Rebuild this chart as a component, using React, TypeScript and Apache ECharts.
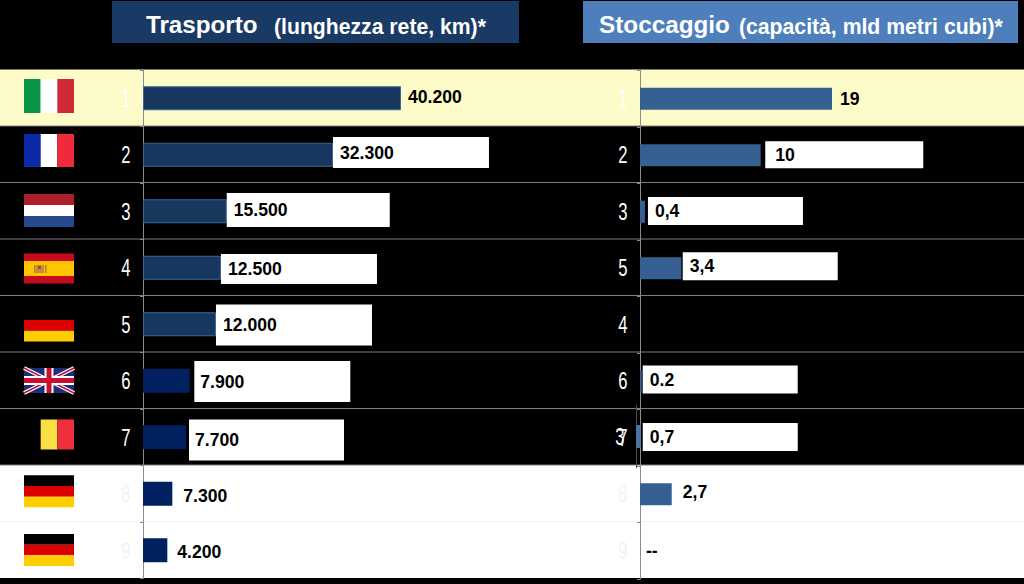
import React, { useEffect, useRef } from "react";
import * as echarts from "echarts";

const FONT = "'Liberation Sans', Arial, sans-serif";

// Ranks shown beside each row
const transportRanks = ["1", "2", "3", "4", "5", "6", "7", "8", "9"];
const storageRanks = ["1", "2", "3", "5", "4", "6", "7", "8", "9"];

// Printed values
const transportLabels = ["40.200", "32.300", "15.500", "12.500", "12.000", "7.900", "7.700", "7.300", "4.200"];
const storageLabels = ["19", "10", "0,4", "3,4", "", "0.2", "", "2,7", "--"];

// The reference's bars are not proportional to their printed values, so the
// bar lengths are read off the picture, on an axis where the top bar equals its label.
const transportBars = [40200, 29600, 13050, 12150, 11370, 7280, 6700, 4570, 3790];
const storageBars: (number | null)[] = [19, 11.94, 0.49, 4.09, null, 0.17, null, 3.14, 0];

// Netherlands' misplaced storage mark, which sits in the row of rank 7
const strayRank = ["3"];
const strayBar = [0.47];
const strayLabel = ["0,7"];

// Label placement: gap after the bar, left padding, vertical shift, box size (0 = no box)
const transportBoxes = [
  { gap: 7, pad: 0, dy: -1, w: 0, h: 0 },
  { gap: 0, pad: 7, dy: -2.25, w: 149, h: 31 },
  { gap: 0, pad: 7, dy: -1.25, w: 156, h: 34 },
  { gap: 0, pad: 7, dy: 1.25, w: 149, h: 30 },
  { gap: 0, pad: 7, dy: 0.75, w: 149, h: 41 },
  { gap: 4.6, pad: 6, dy: 0.75, w: 150, h: 41 },
  { gap: 3, pad: 6, dy: 2.75, w: 149, h: 41 },
  { gap: 11, pad: 0, dy: 2, w: 0, h: 0 },
  { gap: 10, pad: 0, dy: 2, w: 0, h: 0 },
];
const storageBoxes = [
  { gap: 8, pad: 0, dy: 0.5, w: 0, h: 0 },
  { gap: 4.6, pad: 10, dy: -0.5, w: 148, h: 27 },
  { gap: 3, pad: 7, dy: -0.75, w: 148, h: 28 },
  { gap: 1.4, pad: 7, dy: -2, w: 148, h: 28 },
  { gap: 0, pad: 0, dy: 0, w: 0, h: 0 },
  { gap: 1, pad: 7, dy: -1.75, w: 148, h: 28 },
  { gap: 0, pad: 0, dy: 0, w: 0, h: 0 },
  { gap: 11, pad: 0, dy: -2, w: 0, h: 0 },
  { gap: 6, pad: 0, dy: 0, w: 0, h: 0 },
];
const strayBox = { gap: 2, pad: 7, dy: 0.5, w: 148, h: 28 };

const ROW_TOP = 69.5;
const ROW_H = 56.5;
const FLAG_L = 24;
const FLAG_W = 50;

const rect = (x: number, y: number, width: number, height: number, fill: string, z = 1) => ({
  type: "rect",
  z,
  shape: { x, y, width, height },
  style: { fill },
});
const line = (x1: number, y1: number, x2: number, y2: number, stroke: string, lineWidth = 1, z = 1) => ({
  type: "line",
  z,
  shape: { x1, y1, x2, y2 },
  style: { stroke, lineWidth },
});
const text = (t: string, x: number, y: number, fontSize: number) => ({
  type: "text",
  z: 3,
  x,
  y,
  style: {
    text: t,
    fill: "#ffffff",
    fontSize,
    fontWeight: "bold",
    fontFamily: FONT,
    textVerticalAlign: "middle",
  },
});
// The reference's rank digits are in a condensed face; none is installed, so real text is squeezed
const rank = (t: string, x: number, y: number, fill: string) => ({
  type: "text",
  z: 3,
  x,
  y,
  scaleX: 0.68,
  style: {
    text: t,
    fill,
    fontSize: 24.5,
    fontFamily: FONT,
    textAlign: "center",
    textVerticalAlign: "middle",
  },
});
const rankColumn = (ranks: string[], x: number) =>
  ranks.map((t, i) => rank(t, x, ROW_TOP + (i + 0.5) * ROW_H, i >= 7 ? "#f3f3f3" : "#ffffff"));

const vStripes = (y: number, h: number, colors: (string | null)[]) =>
  colors
    .map((c, i) => (c ? rect(FLAG_L + (i * FLAG_W) / 3, y, FLAG_W / 3, h, c) : null))
    .filter(Boolean);
const hStripes = (y: number, h: number, colors: (string | null)[]) =>
  colors
    .map((c, i) => (c ? rect(FLAG_L, y + (i * h) / colors.length, FLAG_W, h / colors.length, c) : null))
    .filter(Boolean);

function flags() {
  const R = FLAG_L + FLAG_W;
  const ukT = 368;
  const ukB = 393;
  const ukM = (ukT + ukB) / 2;
  const ukC = FLAG_L + FLAG_W / 2;
  return [
    ...vStripes(79, 34, ["#0a9447", "#ffffff", "#cf2a36"]),
    ...vStripes(134, 33, ["#0a2aa8", "#ffffff", "#ee2a3c"]),
    ...hStripes(194, 33, ["#ae1f2c", "#ffffff", "#26488c"]),
    // Spain
    rect(FLAG_L, 253.5, FLAG_W, 30, "#c60b1e"),
    rect(FLAG_L, 261, FLAG_W, 15, "#ffc400"),
    rect(36, 265, 8, 8, "#c98a3a"),
    rect(34, 265, 1.5, 8, "#a8842e"),
    rect(45, 265, 1.5, 8, "#a8842e"),
    rect(38, 266, 3, 3, "#b5432b"),
    // Germany, black stripe lost on the black page
    ...hStripes(320, 21.5, ["#dd0000", "#ffce00"]),
    // UK
    rect(FLAG_L, ukT, FLAG_W, ukB - ukT, "#1c2f7f"),
    line(FLAG_L, ukT, R, ukB, "#ffffff", 4),
    line(FLAG_L, ukB, R, ukT, "#ffffff", 4),
    line(FLAG_L, ukT, R, ukB, "#c8102e", 1.4),
    line(FLAG_L, ukB, R, ukT, "#c8102e", 1.4),
    rect(ukC - 4.5, ukT, 9, ukB - ukT, "#ffffff"),
    rect(FLAG_L, ukM - 4.5, FLAG_W, 9, "#ffffff"),
    rect(ukC - 2.5, ukT, 5, ukB - ukT, "#c8102e"),
    rect(FLAG_L, ukM - 2.5, FLAG_W, 5, "#c8102e"),
    // Belgium, black stripe lost on the black page
    ...vStripes(419.5, 30, [null, "#fadf42", "#ee2f3c"]),
    // Germany
    ...hStripes(475.3, 32, ["#000000", "#dd0000", "#ffce00"]),
    ...hStripes(534, 32, ["#000000", "#dd0000", "#ffce00"]),
  ];
}

function backdrop() {
  const rows = [];
  for (let i = 1; i <= 7; i++) {
    rows.push(line(0, ROW_TOP + i * ROW_H, 1024, ROW_TOP + i * ROW_H, "#7f7f7f", 1, -1));
  }
  return [
    rect(0, ROW_TOP, 1024, ROW_H, "#fdfbc8", -3),
    rect(0, ROW_TOP + 7 * ROW_H, 1024, 2 * ROW_H, "#ffffff", -3),
    line(0, ROW_TOP + 8 * ROW_H, 1024, ROW_TOP + 8 * ROW_H, "#f2f2f2", 1, -2),
    ...rows,
    rect(112, 1, 407, 42, "#1a3a66", 1),
    rect(583, 1, 435, 42, "#4d7fbc", 1),
    text("Trasporto", 146, 24, 24.2),
    text("(lunghezza rete, km)*", 274, 26, 21.2),
    text("Stoccaggio", 599, 24, 24.3),
    text("(capacità, mld metri cubi)*", 739, 26, 21.2),
    ...rankColumn(transportRanks, 126),
    ...rankColumn(storageRanks, 623),
    rank(strayRank[0], 620, 436.5, "#ffffff"),
  ];
}

type Box = { gap: number; pad: number; dy: number; w: number; h: number };

function valueLabel(t: string, b: Box) {
  if (!t) return { show: false };
  const base: any = {
    show: true,
    position: "right",
    distance: b.gap,
    offset: [0, b.dy],
    formatter: t,
    color: "#000000",
    fontFamily: FONT,
    fontWeight: "bold",
    fontSize: 17.6,
  };
  if (b.w) {
    base.width = b.w;
    base.height = b.h;
    base.lineHeight = b.h;
    base.padding = [0, 0, 0, b.pad];
    base.backgroundColor = "#ffffff";
    base.align = "left";
    base.verticalAlign = "middle";
  }
  return base;
}

function rankAxis(gridIndex: number, ranks: string[], showTicks: boolean, axisColor: string) {
  return {
    type: "category",
    gridIndex,
    inverse: true,
    data: ranks,
    axisLine: { show: true, lineStyle: { color: axisColor, width: 1 } },
    axisTick: { show: showTicks, length: 3, lineStyle: { color: "#8c8c8c" } },
    axisLabel: { show: false },
  };
}

export default function App() {
  const ref = useRef<HTMLDivElement>(null);
  useEffect(() => {
    document.body.style.margin = "0";
    document.body.style.overflow = "hidden";
    const chart = echarts.init(ref.current!, undefined, { renderer: "svg" });
    chart.setOption({
      animation: false,
      backgroundColor: "#000000",
      graphic: { elements: [...backdrop(), ...flags()] },
      grid: [
        { left: 143, top: 70, width: 258, height: 508.5 },
        { left: 640, top: 70.5, width: 192, height: 508.5 },
        { left: 636, top: 405.5, width: 192, height: 62 },
      ],
      xAxis: [
        { type: "value", gridIndex: 0, min: 0, max: 40200, show: false },
        { type: "value", gridIndex: 1, min: 0, max: 19, show: false },
        { type: "value", gridIndex: 2, min: 0, max: 19, show: false },
      ],
      yAxis: [
        rankAxis(0, transportRanks, true, "#8c8c8c"),
        rankAxis(1, storageRanks, true, "#8c8c8c"),
        rankAxis(2, strayRank, false, "#4a4a4a"),
      ],
      series: [
        {
          type: "bar",
          xAxisIndex: 0,
          yAxisIndex: 0,
          barWidth: 24,
          data: transportBars.map((value, i) => ({
            value,
            itemStyle:
              i < 5
                ? { color: "#17375e", borderColor: "#3d659a", borderWidth: 1 }
                : { color: "#002060" },
            label: valueLabel(transportLabels[i], transportBoxes[i]),
          })),
        },
        {
          type: "bar",
          xAxisIndex: 1,
          yAxisIndex: 1,
          barWidth: 22,
          itemStyle: { color: "#376092" },
          data: storageBars.map((value, i) => ({
            value,
            label: valueLabel(storageLabels[i], storageBoxes[i]),
          })),
        },
        {
          type: "bar",
          xAxisIndex: 2,
          yAxisIndex: 2,
          barWidth: 23,
          itemStyle: { color: "#4a74a8" },
          data: strayBar.map((value, i) => ({
            value,
            label: valueLabel(strayLabel[i], strayBox),
          })),
        },
      ],
    });
    return () => chart.dispose();
  }, []);
  return <div ref={ref} style={{ width: 1024, height: 584 }} />;
}
